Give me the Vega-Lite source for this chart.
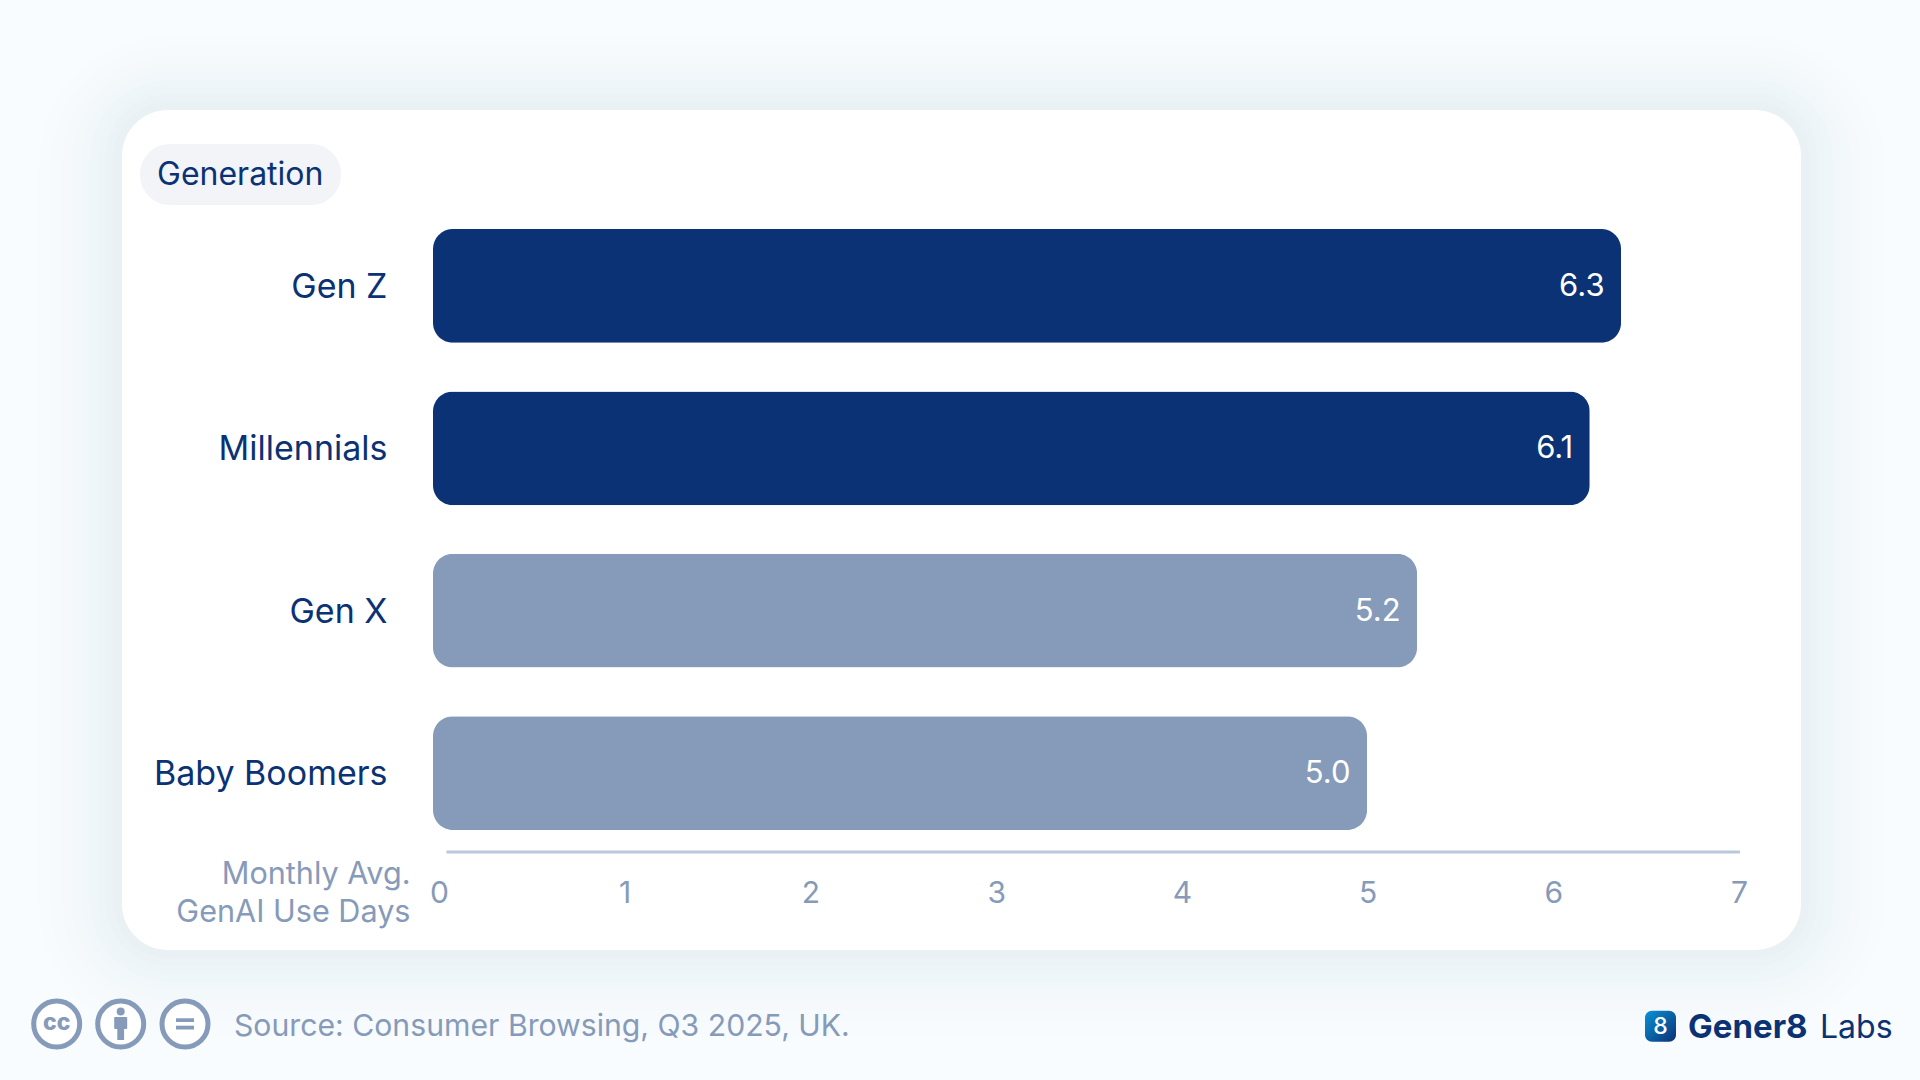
{
  "$schema": "https://vega.github.io/schema/vega-lite/v6.json",
  "width": 1678,
  "height": 840,
  "autosize": {"type": "none"},
  "padding": {"left": 122, "top": 110, "right": 120, "bottom": 130},
  "background": "#f8fcff",
  "config": {"view": {"stroke": null}, "font": "Inter"},
  "layer": [
    {
      "data": {"values": [{"part": "frame"}]},
      "resolve": {"scale": {"x": "shared", "y": "shared"}},
      "layer": [
        {"mark": {"type": "rect", "fill": "#3e4254", "opacity": 0.004, "cornerRadius": 130},
         "encoding": {
           "x": {"datum": 38, "type": "quantitative", "scale": {"domain": [0, 1920], "range": [-122, 1798], "nice": false}, "axis": null},
           "x2": {"datum": 1885},
           "y": {"datum": 36, "type": "quantitative", "scale": {"domain": [0, 1080], "range": [-110, 970], "nice": false}, "axis": null},
           "y2": {"datum": 1034}}},
        {"mark": {"type": "rect", "fill": "#3e4254", "opacity": 0.004, "cornerRadius": 118},
         "encoding": {"x": {"datum": 50, "type": "quantitative"}, "x2": {"datum": 1873}, "y": {"datum": 46, "type": "quantitative"}, "y2": {"datum": 1022}}},
        {"mark": {"type": "rect", "fill": "#3e4254", "opacity": 0.005, "cornerRadius": 106},
         "encoding": {"x": {"datum": 62, "type": "quantitative"}, "x2": {"datum": 1861}, "y": {"datum": 56, "type": "quantitative"}, "y2": {"datum": 1010}}},
        {"mark": {"type": "rect", "fill": "#3e4254", "opacity": 0.006, "cornerRadius": 96},
         "encoding": {"x": {"datum": 72, "type": "quantitative"}, "x2": {"datum": 1851}, "y": {"datum": 64, "type": "quantitative"}, "y2": {"datum": 1000}}},
        {"mark": {"type": "rect", "fill": "#3e4254", "opacity": 0.007, "cornerRadius": 86},
         "encoding": {"x": {"datum": 82, "type": "quantitative"}, "x2": {"datum": 1841}, "y": {"datum": 72, "type": "quantitative"}, "y2": {"datum": 990}}},
        {"mark": {"type": "rect", "fill": "#3e4254", "opacity": 0.008, "cornerRadius": 78},
         "encoding": {"x": {"datum": 90, "type": "quantitative"}, "x2": {"datum": 1833}, "y": {"datum": 80, "type": "quantitative"}, "y2": {"datum": 982}}},
        {"mark": {"type": "rect", "fill": "#3e4254", "opacity": 0.009, "cornerRadius": 70},
         "encoding": {"x": {"datum": 98, "type": "quantitative"}, "x2": {"datum": 1825}, "y": {"datum": 87, "type": "quantitative"}, "y2": {"datum": 974}}},
        {"mark": {"type": "rect", "fill": "#3e4254", "opacity": 0.01, "cornerRadius": 62},
         "encoding": {"x": {"datum": 106, "type": "quantitative"}, "x2": {"datum": 1817}, "y": {"datum": 94, "type": "quantitative"}, "y2": {"datum": 966}}},
        {"mark": {"type": "rect", "fill": "#3e4254", "opacity": 0.012, "cornerRadius": 54},
         "encoding": {"x": {"datum": 114, "type": "quantitative"}, "x2": {"datum": 1809}, "y": {"datum": 102, "type": "quantitative"}, "y2": {"datum": 958}}},
        {"mark": {"type": "rect", "fill": "#ffffff", "cornerRadius": 46},
         "encoding": {"x": {"datum": 122, "type": "quantitative"}, "x2": {"datum": 1801}, "y": {"datum": 110, "type": "quantitative"}, "y2": {"datum": 950}}},
        {"mark": {"type": "rect", "fill": "#f2f4f8", "cornerRadius": 30},
         "encoding": {"x": {"datum": 140, "type": "quantitative"}, "x2": {"datum": 341}, "y": {"datum": 144, "type": "quantitative"}, "y2": {"datum": 205}}},
        {"mark": {"type": "text", "text": "Generation", "font": "Inter", "fontSize": 32, "color": "#0a3274", "align": "left", "baseline": "alphabetic"},
         "encoding": {"x": {"datum": 157, "type": "quantitative"}, "y": {"datum": 185, "type": "quantitative"}}},
        {"mark": {"type": "point", "shape": "circle", "filled": false, "fill": "#ffffff", "fillOpacity": 1, "stroke": "#869ab9", "strokeWidth": 5, "size": 2116, "opacity": 1},
         "encoding": {"x": {"datum": 56.7, "type": "quantitative"}, "y": {"datum": 1024, "type": "quantitative"}}},
        {"mark": {"type": "point", "shape": "circle", "filled": false, "fill": "#ffffff", "fillOpacity": 1, "stroke": "#869ab9", "strokeWidth": 5, "size": 2116, "opacity": 1},
         "encoding": {"x": {"datum": 120.7, "type": "quantitative"}, "y": {"datum": 1024, "type": "quantitative"}}},
        {"mark": {"type": "point", "shape": "circle", "filled": false, "fill": "#ffffff", "fillOpacity": 1, "stroke": "#869ab9", "strokeWidth": 5, "size": 2116, "opacity": 1},
         "encoding": {"x": {"datum": 185, "type": "quantitative"}, "y": {"datum": 1024, "type": "quantitative"}}},
        {"mark": {"type": "text", "text": "cc", "font": "Inter", "fontWeight": 800, "fontSize": 23, "color": "#869ab9", "align": "center", "baseline": "middle"},
         "encoding": {"x": {"datum": 56.7, "type": "quantitative"}, "y": {"datum": 1023, "type": "quantitative"}}},
        {"mark": {"type": "point", "shape": "circle", "filled": true, "color": "#869ab9", "size": 64, "opacity": 1},
         "encoding": {"x": {"datum": 120.7, "type": "quantitative"}, "y": {"datum": 1011.5, "type": "quantitative"}}},
        {"mark": {"type": "rect", "fill": "#869ab9", "cornerRadius": 1},
         "encoding": {"x": {"datum": 114.2, "type": "quantitative"}, "x2": {"datum": 127.2}, "y": {"datum": 1017, "type": "quantitative"}, "y2": {"datum": 1029}}},
        {"mark": {"type": "rect", "fill": "#869ab9"},
         "encoding": {"x": {"datum": 117.3, "type": "quantitative"}, "x2": {"datum": 124.1}, "y": {"datum": 1028, "type": "quantitative"}, "y2": {"datum": 1040}}},
        {"mark": {"type": "rect", "fill": "#869ab9"},
         "encoding": {"x": {"datum": 176, "type": "quantitative"}, "x2": {"datum": 194}, "y": {"datum": 1018.3, "type": "quantitative"}, "y2": {"datum": 1022}}},
        {"mark": {"type": "rect", "fill": "#869ab9"},
         "encoding": {"x": {"datum": 176, "type": "quantitative"}, "x2": {"datum": 194}, "y": {"datum": 1025.7, "type": "quantitative"}, "y2": {"datum": 1029.5}}},
        {"mark": {"type": "text", "text": "Source: Consumer Browsing, Q3 2025, UK.", "font": "Inter", "fontSize": 30.2, "color": "#869ab9", "align": "left", "baseline": "alphabetic"},
         "encoding": {"x": {"datum": 234, "type": "quantitative"}, "y": {"datum": 1036, "type": "quantitative"}}},
        {"mark": {"type": "rect", "cornerRadius": 7, "fill": {"gradient": "linear", "x1": 0, "y1": 0, "x2": 1, "y2": 1, "stops": [{"offset": 0, "color": "#0a92d6"}, {"offset": 1, "color": "#0a3274"}]}},
         "encoding": {"x": {"datum": 1645, "type": "quantitative"}, "x2": {"datum": 1676}, "y": {"datum": 1010.7, "type": "quantitative"}, "y2": {"datum": 1041.7}}},
        {"mark": {"type": "text", "text": "8", "font": "Inter", "fontWeight": 500, "fontSize": 23, "color": "#ffffff", "align": "center", "baseline": "middle"},
         "encoding": {"x": {"datum": 1660.5, "type": "quantitative"}, "y": {"datum": 1026.5, "type": "quantitative"}}},
        {"mark": {"type": "text", "text": "Gener8", "font": "Inter", "fontWeight": 700, "fontSize": 33, "color": "#0a3274", "align": "left", "baseline": "alphabetic"},
         "encoding": {"x": {"datum": 1688, "type": "quantitative"}, "y": {"datum": 1038, "type": "quantitative"}}},
        {"mark": {"type": "text", "text": "Labs", "font": "Inter", "fontWeight": 400, "fontSize": 32, "color": "#0a3274", "align": "left", "baseline": "alphabetic"},
         "encoding": {"x": {"datum": 1820, "type": "quantitative"}, "y": {"datum": 1038, "type": "quantitative"}}}
      ]
    },
    {
      "data": {"values": [
        {"generation": "Gen Z", "days": 6.3, "bar_days": 6.296},
        {"generation": "Millennials", "days": 6.1, "bar_days": 6.13},
        {"generation": "Gen X", "days": 5.2, "bar_days": 5.215},
        {"generation": "Baby Boomers", "days": 5.0, "bar_days": 4.95}
      ]},
      "encoding": {
        "y": {
          "field": "generation",
          "type": "nominal",
          "sort": null,
          "title": null,
          "scale": {"domain": ["Gen Z", "Millennials", "Gen X", "Baby Boomers"], "range": [94.6, 744.4], "paddingInner": 0.3, "paddingOuter": 0.15},
          "axis": {"orient": "left", "offset": -265, "zindex": 1, "domain": false, "ticks": false, "grid": false, "labelPadding": 0, "labelFont": "Inter", "labelFontSize": 34, "labelColor": "#0a3274", "labelLimit": 400, "labelOffset": 2}
        },
        "x": {
          "field": "bar_days",
          "type": "quantitative",
          "scale": {"domain": [0, 7], "range": [311, 1631.9], "nice": false},
          "axis": null
        }
      },
      "layer": [
        {
          "mark": {"type": "bar", "cornerRadius": 20},
          "encoding": {
            "color": {
              "field": "generation",
              "type": "nominal",
              "legend": null,
              "scale": {"domain": ["Gen Z", "Millennials", "Gen X", "Baby Boomers"], "range": ["#0a3274", "#0a3274", "#869ab9", "#869ab9"]}
            }
          }
        },
        {
          "mark": {"type": "text", "font": "Inter", "fontSize": 31, "color": "#ffffff", "align": "right", "baseline": "middle", "dx": -16.5, "dy": 1},
          "encoding": {"text": {"field": "days", "type": "quantitative", "format": ".1f"}}
        }
      ]
    },
    {
      "data": {"values": [{"part": "axis line"}]},
      "mark": {"type": "rule", "stroke": "#b9c8dc", "strokeWidth": 3},
      "encoding": {
        "x": {
          "datum": 0.04,
          "type": "quantitative",
          "scale": {"domain": [0, 7], "range": [317, 1617], "nice": false},
          "axis": {
            "orient": "bottom",
            "offset": -98,
            "zindex": 1,
            "domain": false,
            "ticks": false,
            "grid": false,
            "values": [0, 1, 2, 3, 4, 5, 6, 7],
            "format": "d",
            "labelFont": "Inter",
            "labelFontSize": 30,
            "labelColor": "#869ab9",
            "labelPadding": 26,
            "labelFlush": false,
            "title": ["Monthly Avg.", "GenAI Use Days"],
            "titleFont": "Inter",
            "titleFontSize": 30.6,
            "titleFontWeight": 400,
            "titleColor": "#869ab9",
            "titleAlign": "right",
            "titleAnchor": null,
            "titleBaseline": "alphabetic",
            "titleLineHeight": 38,
            "titleX": 288,
            "titleY": 31
          }
        },
        "x2": {"datum": 7.005},
        "y": {"datum": 852, "type": "quantitative", "scale": {"domain": [0, 1080], "range": [-110, 970], "nice": false}, "axis": null}
      }
    }
  ],
  "resolve": {"scale": {"x": "independent", "y": "independent", "color": "independent"}}
}
